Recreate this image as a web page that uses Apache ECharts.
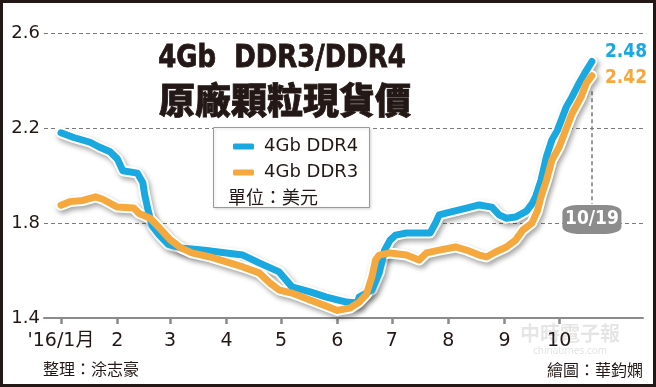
<!DOCTYPE html>
<html>
<head>
<meta charset="utf-8">
<script src="https://cdn.jsdelivr.net/npm/echarts@6/dist/echarts.min.js"></script>
<style>
html,body{margin:0;padding:0;background:#fff;}
#chart{width:656px;height:387px;}
</style>
</head>
<body>
<div id="chart"></div>
<script>
// ---- data ----
const ddr4Dates = ['2016-01-01','2016-01-08','2016-01-17','2016-01-22','2016-01-28','2016-02-01','2016-02-04','2016-02-12','2016-02-15','2016-02-16','2016-02-18','2016-02-20','2016-02-24','2016-02-29','2016-03-07','2016-03-20','2016-04-01','2016-04-10','2016-04-19','2016-04-30','2016-05-07','2016-05-17','2016-05-26','2016-06-06','2016-06-12','2016-06-13','2016-06-20','2016-06-24','2016-06-27','2016-06-30','2016-07-03','2016-07-09','2016-07-22','2016-07-25','2016-07-27','2016-08-02','2016-08-11','2016-08-18','2016-08-25','2016-08-29','2016-09-02','2016-09-07','2016-09-13','2016-09-16','2016-09-18','2016-09-21','2016-09-24','2016-09-27','2016-09-30','2016-10-05','2016-10-08','2016-10-12','2016-10-15','2016-10-19'];
const ddr4Values = [2.18,2.16,2.14,2.12,2.10,2.07,2.02,2.01,1.97,1.92,1.85,1.79,1.75,1.71,1.695,1.685,1.674,1.665,1.632,1.594,1.531,1.51,1.488,1.467,1.463,1.488,1.518,1.59,1.686,1.728,1.749,1.758,1.758,1.80,1.834,1.846,1.863,1.876,1.867,1.834,1.82,1.825,1.85,1.88,1.91,1.98,2.08,2.15,2.19,2.29,2.33,2.39,2.43,2.48];
const ddr3Dates = ['2016-01-01','2016-01-06','2016-01-13','2016-01-20','2016-01-24','2016-02-01','2016-02-10','2016-02-13','2016-02-19','2016-02-24','2016-03-01','2016-03-07','2016-03-13','2016-03-23','2016-04-01','2016-04-10','2016-04-19','2016-04-25','2016-04-30','2016-05-07','2016-05-17','2016-05-26','2016-06-01','2016-06-08','2016-06-13','2016-06-17','2016-06-20','2016-06-22','2016-06-24','2016-06-30','2016-07-09','2016-07-16','2016-07-20','2016-07-27','2016-08-05','2016-08-11','2016-08-18','2016-08-22','2016-08-27','2016-09-02','2016-09-07','2016-09-11','2016-09-16','2016-09-19','2016-09-21','2016-09-24','2016-09-27','2016-10-01','2016-10-05','2016-10-08','2016-10-13','2016-10-16','2016-10-19'];
const ddr3Values = [1.875,1.89,1.895,1.91,1.90,1.867,1.863,1.84,1.82,1.78,1.73,1.695,1.674,1.657,1.636,1.615,1.59,1.547,1.518,1.505,1.476,1.45,1.432,1.442,1.467,1.50,1.573,1.644,1.665,1.674,1.665,1.644,1.674,1.686,1.699,1.686,1.665,1.657,1.678,1.699,1.728,1.77,1.80,1.85,1.91,1.98,2.065,2.12,2.20,2.26,2.33,2.39,2.42];
const monthTicks = ['2016-01-01','2016-02-01','2016-03-01','2016-04-01','2016-05-01','2016-06-01','2016-07-01','2016-08-01','2016-09-01','2016-10-01'];
const monthLabels = ["'16/1月",'2','3','4','5','6','7','8','9','10'];
const yTicks = [1.4, 1.8, 2.2, 2.6];
const seriesNames = ['4Gb DDR4', '4Gb DDR3'];
const markDate = '2016-10-19';
const markText = '10/19';

// ---- build ----
const BLUE = '#1aa8e0', ORANGE = '#f5a83d', INK = '#231815';
const t = s => Date.UTC(+s.slice(0, 4), +s.slice(5, 7) - 1, +s.slice(8, 10));
const pairs = (d, v) => d.map((x, i) => [t(x), v[i]]);
const tickTimes = monthTicks.map(t);
const DAY = 864e5;
const cond = "'DejaVu Sans Condensed','DejaVu Sans',sans-serif";
const geo = "'DejaVu Sans','Noto Sans CJK TC',sans-serif";
const outline = (data) => ({
  type: 'line', data, symbol: 'none', silent: true, z: 2,
  lineStyle: { color: '#fff', width: 11, cap: 'round', join: 'round',
    shadowColor: 'rgba(0,0,0,0.35)', shadowBlur: 5, shadowOffsetX: 2, shadowOffsetY: 3 }
});

const chart = echarts.init(document.getElementById('chart'), null, { renderer: 'canvas' });
chart.setOption({
  animation: false,
  backgroundColor: '#fff',
  grid: { left: 44, right: 13, top: 33, bottom: 69 },
  xAxis: {
    type: 'value',
    min: tickTimes[0] - 9.35 * DAY,
    max: tickTimes[0] + 320.1 * DAY,
    axisLine: { lineStyle: { color: '#8a8a8a', width: 2 } },
    axisTick: { show: true, length: 6, lineStyle: { color: '#8a8a8a', width: 2.5 }, customValues: tickTimes },
    axisLabel: {
      customValues: tickTimes,
      margin: 14, showMinLabel: true, showMaxLabel: true,
      color: INK, fontSize: 19, fontFamily: geo,
      formatter: (val) => {
        const i = tickTimes.indexOf(+val);
        return i >= 0 ? monthLabels[i] : '';
      }
    },
    splitLine: { show: false }
  },
  yAxis: {
    type: 'value', min: yTicks[0], max: yTicks[yTicks.length - 1], interval: 0.4,
    axisLine: { show: false }, axisTick: { show: false },
    axisLabel: { color: INK, fontSize: 18, margin: 4, fontFamily: geo,
      formatter: v => v.toFixed(1) },
    splitLine: { lineStyle: { color: '#7a7a7a', width: 1, type: [4, 3] } }
  },
  legend: {
    data: seriesNames,
    orient: 'vertical', left: 228, top: 131, itemGap: 5,
    itemWidth: 21, itemHeight: 6, icon: 'roundRect',
    textStyle: { color: INK, fontSize: 18, lineHeight: 21, padding: [0, 0, 0, 5], fontFamily: geo },
    selectedMode: false, z: 10
  },
  series: [
    outline(pairs(ddr4Dates, ddr4Values)),
    {
      name: seriesNames[0], type: 'line', data: pairs(ddr4Dates, ddr4Values),
      symbol: 'none', color: BLUE, z: 3,
      lineStyle: { color: BLUE, width: 7, cap: 'round', join: 'round' },
      endLabel: { show: true, formatter: p => p.value[1].toFixed(2), color: BLUE,
        fontSize: 19, fontWeight: 'bold', fontFamily: cond, distance: 13, offset: [0, -9] }
    },
    outline(pairs(ddr3Dates, ddr3Values)),
    {
      name: seriesNames[1], type: 'line', data: pairs(ddr3Dates, ddr3Values),
      symbol: 'none', color: ORANGE, z: 4,
      lineStyle: { color: ORANGE, width: 7, cap: 'round', join: 'round' },
      endLabel: { show: true, formatter: p => p.value[1].toFixed(2), color: ORANGE,
        fontSize: 19, fontWeight: 'bold', fontFamily: cond, distance: 13, offset: [0, 2] },
      markLine: {
        silent: true, symbol: 'none', z: 1,
        lineStyle: { color: '#7a7a7a', width: 1.5, type: [4, 3] },
        label: { show: false },
        data: [[{ coord: [t(markDate), 2.355] }, { coord: [t(markDate), 1.88] }]]
      },
      markPoint: {
        silent: true, symbol: 'roundRect', symbolSize: [59, 29],
        itemStyle: { color: '#8c8c8c' },
        label: { show: true, formatter: markText, color: '#fff', fontSize: 19,
          fontWeight: 'bold', fontFamily: cond },
        data: [{ coord: [t(markDate), 1.815] }]
      }
    }
  ],
  graphic: [
    { type: 'rect', z: 5, shape: { x: 213.5, y: 127.5, width: 156, height: 80 },
      style: { fill: '#fff', stroke: '#9a9a9a', lineWidth: 1,
        shadowColor: 'rgba(0,0,0,0.15)', shadowBlur: 3, shadowOffsetX: 1, shadowOffsetY: 1 } },
    { type: 'text', z: 11, x: 228, y: 197,
      style: { text: '單位：美元', fill: INK, font: "18px 'Noto Sans CJK TC'", verticalAlign: 'middle' } },
    { type: 'text', z: 11, x: 282, y: 59, scaleX: 0.9,
      style: { text: '4Gb  DDR3/DDR4', fill: INK, font: "bold 32px " + cond,
        textAlign: 'center', verticalAlign: 'middle', stroke: INK, lineWidth: 0.8 } },
    { type: 'text', z: 11, x: 285, y: 100,
      style: { text: '原廠顆粒現貨價', fill: INK, font: "900 36px 'Noto Sans CJK TC'",
        textAlign: 'center', verticalAlign: 'middle', stroke: INK, lineWidth: 0.8 } },
    { type: 'text', z: 11, x: 43, y: 369,
      style: { text: '整理：涂志豪', fill: INK, font: "16px 'Noto Sans CJK TC'", verticalAlign: 'middle' } },
    { type: 'text', z: 11, x: 643, y: 370,
      style: { text: '繪圖：華鈞嫻', fill: INK, font: "16px 'Noto Sans CJK TC'",
        textAlign: 'right', verticalAlign: 'middle' } },
    { type: 'text', z: 1, x: 570, y: 333,
      style: { text: '中時電子報', fill: 'rgba(0,0,0,0.10)', font: "bold 20px 'Noto Sans CJK TC'",
        textAlign: 'center', verticalAlign: 'middle' } },
    { type: 'text', z: 1, x: 570, y: 351,
      style: { text: 'chinatimes.com', fill: 'rgba(0,0,0,0.12)', font: "10px 'Noto Sans'",
        textAlign: 'center', verticalAlign: 'middle' } },
    { type: 'rect', z: 20, silent: true, shape: { x: 1.5, y: 1.5, width: 653, height: 384 },
      style: { fill: null, stroke: INK, lineWidth: 3 } }
  ]
});
</script>
</body>
</html>
